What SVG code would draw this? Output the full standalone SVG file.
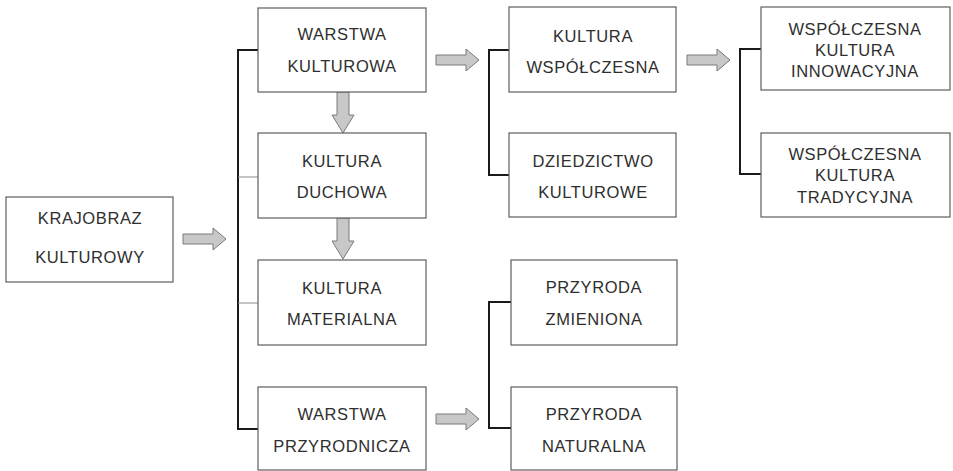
<svg xmlns="http://www.w3.org/2000/svg" xmlns:xlink="http://www.w3.org/1999/xlink" width="953" height="471" viewBox="0 0 953 471">
  <style>
    .box { fill: #ffffff; stroke: #5e5e5e; stroke-width: 1.2; }
    .lbl { font-family: "Liberation Sans", Arial, sans-serif; font-size: 16.5px; letter-spacing: 0.6px; fill: #2e2e2e; text-anchor: middle; }
    .br { fill: none; stroke: #1a1a1a; stroke-width: 2; }
    .thin { fill: none; stroke: #8a8a8a; stroke-width: 1; }
    .arr { fill: #c8c8c8; stroke: #7a7a7a; stroke-width: 1; }
  </style>
  <defs>
    <path id="ra" d="M0,-5 H30 V-11 L43,0 L30,11 V5 H0 Z"/>
    <path id="da" d="M-6,0 H6 V23 H11 L0,41 L-11,23 H-6 Z"/>
  </defs>
  <rect width="953" height="471" fill="#ffffff"/>

  <g id="connectors">
    <path class="br" d="M258,50 H238 V429 H258"/>
    <path class="thin" d="M238,177 H258 M238,303 H258"/>
    <path class="br" d="M509,50 H489 V175 H509"/>
    <path class="br" d="M761,49 H740 V174 H761"/>
    <path class="br" d="M511,302 H489 V428 H511"/>
    <use href="#ra" class="arr" x="183" y="239"/>
    <use href="#ra" class="arr" x="436" y="60"/>
    <use href="#ra" class="arr" x="687" y="60"/>
    <use href="#ra" class="arr" x="436" y="419"/>
    <use href="#da" class="arr" x="343" y="92"/>
    <use href="#da" class="arr" x="343" y="218"/>
  </g>

  <g id="krajobraz">
    <rect class="box" x="6" y="197" width="167" height="85"/>
    <text class="lbl" x="90" y="224">KRAJOBRAZ</text>
    <text class="lbl" x="90" y="263">KULTUROWY</text>
  </g>

  <g id="warstwa-kulturowa">
    <rect class="box" x="258" y="8" width="168" height="84"/>
    <text class="lbl" x="342" y="40">WARSTWA</text>
    <text class="lbl" x="342" y="72">KULTUROWA</text>
  </g>

  <g id="kultura-duchowa">
    <rect class="box" x="258" y="133" width="168" height="85"/>
    <text class="lbl" x="342" y="167">KULTURA</text>
    <text class="lbl" x="342" y="198">DUCHOWA</text>
  </g>

  <g id="kultura-materialna">
    <rect class="box" x="258" y="260" width="168" height="85"/>
    <text class="lbl" x="342" y="294">KULTURA</text>
    <text class="lbl" x="342" y="325">MATERIALNA</text>
  </g>

  <g id="warstwa-przyrodnicza">
    <rect class="box" x="258" y="387" width="168" height="83"/>
    <text class="lbl" x="342" y="420">WARSTWA</text>
    <text class="lbl" x="342" y="452">PRZYRODNICZA</text>
  </g>

  <g id="kultura-wspolczesna">
    <rect class="box" x="509" y="7" width="167" height="85"/>
    <text class="lbl" x="593" y="42">KULTURA</text>
    <text class="lbl" x="593" y="73">WSPÓŁCZESNA</text>
  </g>

  <g id="dziedzictwo">
    <rect class="box" x="509" y="133" width="167" height="84"/>
    <text class="lbl" x="593" y="167">DZIEDZICTWO</text>
    <text class="lbl" x="593" y="198">KULTUROWE</text>
  </g>

  <g id="przyroda-zmieniona">
    <rect class="box" x="511" y="260" width="166" height="85"/>
    <text class="lbl" x="594" y="293">PRZYRODA</text>
    <text class="lbl" x="594" y="325">ZMIENIONA</text>
  </g>

  <g id="przyroda-naturalna">
    <rect class="box" x="511" y="387" width="166" height="83"/>
    <text class="lbl" x="594" y="420">PRZYRODA</text>
    <text class="lbl" x="594" y="452">NATURALNA</text>
  </g>

  <g id="wspolczesna-innowacyjna">
    <rect class="box" x="761" y="7" width="189" height="83"/>
    <text class="lbl" x="855" y="35">WSPÓŁCZESNA</text>
    <text class="lbl" x="855" y="56">KULTURA</text>
    <text class="lbl" x="855" y="77">INNOWACYJNA</text>
  </g>

  <g id="wspolczesna-tradycyjna">
    <rect class="box" x="761" y="133" width="189" height="84"/>
    <text class="lbl" x="855" y="160">WSPÓŁCZESNA</text>
    <text class="lbl" x="855" y="181">KULTURA</text>
    <text class="lbl" x="855" y="203">TRADYCYJNA</text>
  </g>
</svg>
